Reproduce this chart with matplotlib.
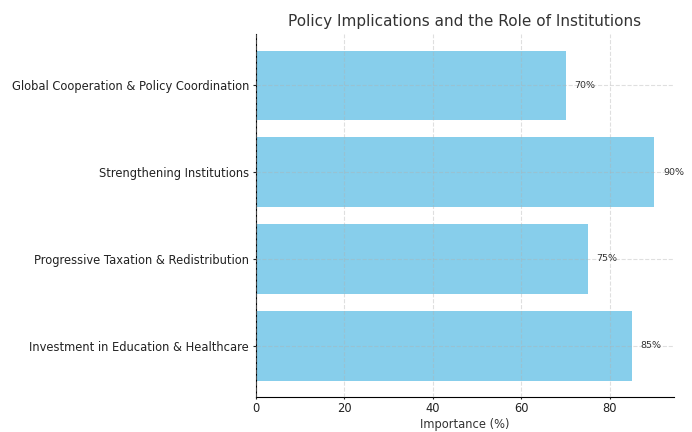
import matplotlib.pyplot as plt

# Data (bottom to top)
policies = [
    "Investment in Education & Healthcare",
    "Progressive Taxation & Redistribution",
    "Strengthening Institutions",
    "Global Cooperation & Policy Coordination",
]
importance = [85, 75, 90, 70]

fig, ax = plt.subplots(figsize=(6.92, 4.32), dpi=100)
fig.subplots_adjust(left=0.37, right=0.974, top=0.921, bottom=0.081)

bars = ax.barh(policies, importance, color="skyblue")

for bar, val in zip(bars, importance):
    ax.text(bar.get_width() + 2, bar.get_y() + bar.get_height() / 2,
            f"{val}%", va="center", ha="left", fontsize=6.8, color="#333333")

ax.set_title("Policy Implications and the Role of Institutions", fontsize=11, color="#333333")
ax.set_xlabel("Importance (%)", fontsize=8.3, color="#333333", labelpad=2)
ax.tick_params(axis="x", length=1.5, pad=2)
ax.tick_params(axis="y", length=2.5, pad=2.5)
ax.tick_params(labelsize=8.3, colors="#222222")
ax.grid(True, linestyle="--", alpha=0.4)
ax.set_axisbelow(False)
ax.spines["top"].set_visible(False)
ax.spines["right"].set_visible(False)

plt.savefig("out.png")
